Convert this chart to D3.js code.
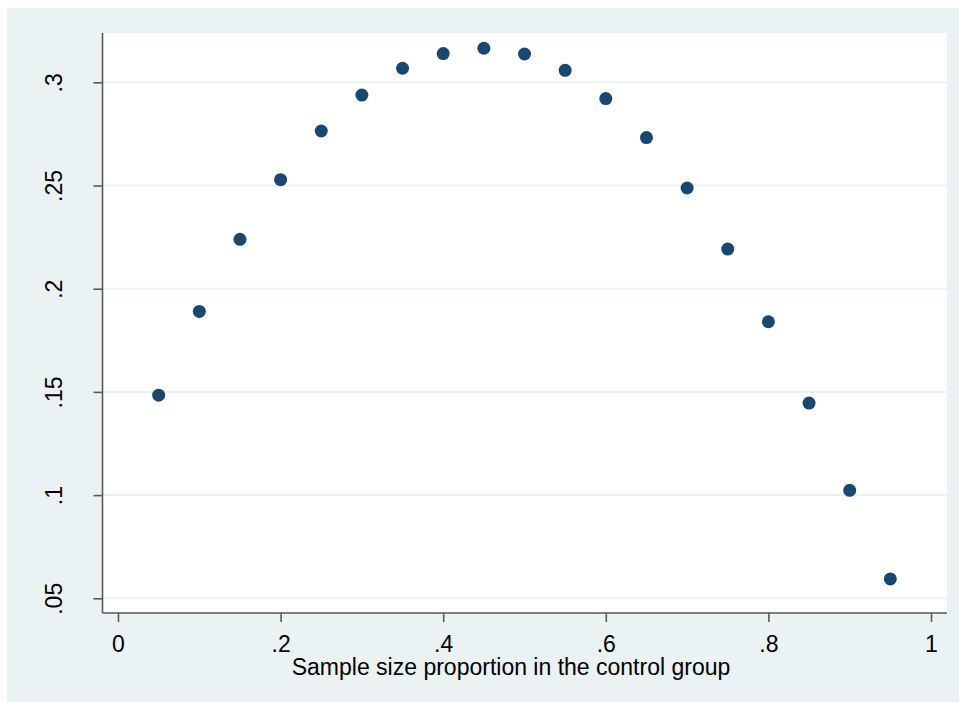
<!DOCTYPE html>
<html>
<head>
<meta charset="utf-8">
<script src="https://cdn.jsdelivr.net/npm/d3@7"></script>
<style>
  html, body { margin: 0; padding: 0; background: #ffffff; }
  svg { display: block; }
  text { font-family: "Liberation Sans", Arial, sans-serif; fill: #000; }
</style>
</head>
<body>
<svg id="chart" width="959" height="702"></svg>
<script>
// Proportion of the sample assigned to the control group
const proportions = [0.05, 0.10, 0.15, 0.20, 0.25, 0.30, 0.35, 0.40, 0.45, 0.50,
                     0.55, 0.60, 0.65, 0.70, 0.75, 0.80, 0.85, 0.90, 0.95];
// Outcome value at each proportion
const values = [0.1484, 0.1890, 0.2239, 0.2528, 0.2764, 0.2938, 0.3068, 0.3139, 0.3165, 0.3137,
                0.3058, 0.2921, 0.2732, 0.2488, 0.2192, 0.1840, 0.1446, 0.1023, 0.0594];
const xTicks = [0, 0.2, 0.4, 0.6, 0.8, 1];
const yTicks = [0.05, 0.10, 0.15, 0.20, 0.25, 0.30];
const xTitle = "Sample size proportion in the control group";

const fmt = v => v === 0 ? "0" : v === 1 ? "1" : d3.format(".2~f")(v).replace(/^0/, "");
const FONT = "'Liberation Sans', Arial, sans-serif";
const FS = "23px";

const svg = d3.select("#chart");
const W = 959, H = 702;

// Outer graph region
svg.append("rect").attr("x", 7).attr("y", 8).attr("width", W - 7).attr("height", H - 8)
  .attr("fill", "#eaf2f3");

// Plot region
const plot = { left: 102.5, right: 947, top: 33, bottom: 613 };
svg.append("rect")
  .attr("x", plot.left).attr("y", plot.top)
  .attr("width", plot.right - plot.left).attr("height", plot.bottom - plot.top)
  .attr("fill", "#ffffff");

const x = d3.scaleLinear().domain([0, 1]).range([118, 931]);
const y = d3.scaleLinear().domain([0.05, 0.30]).range([598.3, 82.3]);

// Horizontal grid lines
svg.append("g").selectAll("line").data(yTicks).join("line")
  .attr("x1", plot.left).attr("x2", plot.right)
  .attr("y1", d => y(d)).attr("y2", d => y(d))
  .attr("stroke", "#eaf2f3").attr("stroke-width", 2);

// Y axis
const yAxis = svg.append("g")
  .attr("transform", `translate(${plot.left},0)`)
  .call(d3.axisLeft(y).tickValues(yTicks).tickSize(9).tickFormat(fmt));
yAxis.select(".domain").attr("d", `M0,${plot.top}V${plot.bottom}`);
yAxis.selectAll(".domain, .tick line").attr("stroke", "#595959").attr("stroke-width", 1.6);
yAxis.selectAll(".tick text")
  .attr("x", null).attr("dy", null)
  .attr("transform", "translate(-41,0) rotate(-90)")
  .attr("text-anchor", "middle")
  .style("font-size", FS)
  .style("font-family", FONT)
  .attr("fill", "#000");

// X axis
const xAxis = svg.append("g")
  .attr("transform", `translate(0,${plot.bottom})`)
  .call(d3.axisBottom(x).tickValues(xTicks).tickSize(9).tickFormat(fmt));
xAxis.select(".domain").attr("d", `M${plot.left},0H${plot.right}`);
xAxis.selectAll(".domain, .tick line").attr("stroke", "#595959").attr("stroke-width", 1.6);
xAxis.selectAll(".tick text")
  .attr("y", 39).attr("dy", null)
  .style("font-size", FS)
  .style("font-family", FONT)
  .attr("fill", "#000");

// X axis title
svg.append("text")
  .attr("x", 511).attr("y", 675)
  .attr("text-anchor", "middle")
  .style("font-size", FS)
  .text(xTitle);

// Scatter points
svg.append("g").selectAll("circle").data(proportions).join("circle")
  .attr("cx", d => x(d))
  .attr("cy", (d, i) => y(values[i]))
  .attr("r", 6.5)
  .attr("fill", "#1a476f");
</script>
</body>
</html>
